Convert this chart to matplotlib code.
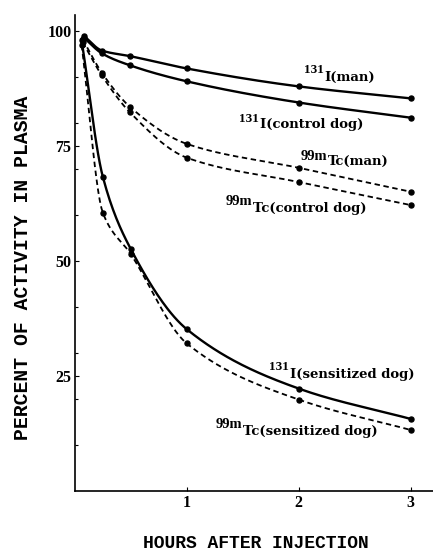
"""
Disappearance of 131I and 99mTc activity from plasma.
"""
import matplotlib
matplotlib.use('Agg')
import matplotlib.pyplot as plt
import numpy as np

# hours after injection and percent of activity in plasma
i131_man_h = [0.08, 0.24, 0.49, 1.0, 2.0, 3.0]
i131_man = [99.0, 95.8, 94.6, 91.9, 88.0, 85.4]

i131_ctrl_h = [0.08, 0.24, 0.49, 1.0, 2.0, 3.0]
i131_ctrl = [98.6, 95.2, 92.6, 89.1, 84.5, 81.2]

tc_man_h = [0.07, 0.24, 0.49, 1.0, 2.0, 3.0]
tc_man = [98.2, 91.0, 83.6, 75.5, 70.3, 65.1]

tc_ctrl_h = [0.07, 0.24, 0.49, 1.0, 2.0, 3.0]
tc_ctrl = [97.6, 90.4, 82.4, 72.5, 67.2, 62.2]

i131_sens_h = [0.06, 0.25, 0.5, 1.0, 2.0, 3.0]
i131_sens = [98.0, 68.3, 52.6, 35.2, 22.3, 15.7]

tc_sens_h = [0.06, 0.25, 0.5, 1.0, 2.0, 3.0]
tc_sens = [97.0, 60.5, 51.5, 32.1, 19.9, 13.3]

x_ticks = [1, 2, 3]
y_ticks = [25, 50, 75, 100]
y_minor = [10, 20, 30, 40, 60, 70, 80, 90]

TXT = 'DejaVu Serif'
NUM = 'Liberation Serif'
MONO = 'Liberation Mono'


def smooth(x, y, n=200):
    # monotone cubic hermite curve through the measured points (drawing only)
    x = np.asarray(x, float)
    y = np.asarray(y, float)
    h = np.diff(x)
    d = np.diff(y) / h
    m = np.zeros_like(y)
    m[0], m[-1] = d[0], d[-1]
    for k in range(1, len(x) - 1):
        if d[k - 1] * d[k] > 0:
            w1 = 2 * h[k] + h[k - 1]
            w2 = h[k] + 2 * h[k - 1]
            m[k] = (w1 + w2) / (w1 / d[k - 1] + w2 / d[k])
    xs = np.linspace(x[0], x[-1], n)
    idx = np.clip(np.searchsorted(x, xs) - 1, 0, len(x) - 2)
    t = (xs - x[idx]) / h[idx]
    h00 = 2 * t**3 - 3 * t**2 + 1
    h10 = t**3 - 2 * t**2 + t
    h01 = -2 * t**3 + 3 * t**2
    h11 = t**3 - t**2
    ys = (h00 * y[idx] + h10 * h[idx] * m[idx]
          + h01 * y[idx + 1] + h11 * h[idx] * m[idx + 1])
    return xs, ys


fig = plt.figure(figsize=(4.33, 5.60), dpi=100)
ax = fig.add_axes([0.173, 0.123, 0.827, 0.850])

series = [
    (i131_man_h, i131_man, '-'),
    (i131_ctrl_h, i131_ctrl, '-'),
    (tc_man_h, tc_man, '--'),
    (tc_ctrl_h, tc_ctrl, '--'),
    (i131_sens_h, i131_sens, '-'),
    (tc_sens_h, tc_sens, '--'),
]
for hx, vy, ls in series:
    xs, ys = smooth(hx, vy)
    if ls == '-':
        ax.plot(xs, ys, color='black', lw=1.7)
    else:
        ax.plot(xs, ys, color='black', lw=1.3, ls=(0, (3, 2)))
    ax.plot(hx, vy, 'o', color='black', ms=3.6)

# curve labels: superscript isotope mass (right-aligned against the element)
labels = [
    (90.9, '131', 2.23, 89.2, 'I(man)'),
    (80.2, '131', 1.65, 78.9, 'I(control dog)'),
    (72.0, '99m', 2.259, 70.9, 'Tc(man)'),
    (62.2, '99m', 1.589, 60.7, 'Tc(control dog)'),
    (26.3, '131', 1.92, 24.6, 'I(sensitized dog)'),
    (13.7, '99m', 1.50, 12.2, 'Tc(sensitized dog)'),
]
for sy, sup, mx, my, main in labels:
    size = 9.5 if sup == '131' else 10.5
    ax.text(mx - 0.005, sy, sup, fontsize=size, fontweight='bold', family=NUM,
            ha='right', va='baseline')
    ax.text(mx, my, main, fontsize=9.5, fontweight='bold', family=TXT,
            ha='left', va='baseline')

ax.set_xlim(0, 3.2)
ax.set_ylim(0, 103.5)
ax.set_xticks(x_ticks)
ax.set_xticklabels([str(v) for v in x_ticks])
ax.set_yticks(y_ticks)
ax.set_yticklabels([str(v) for v in y_ticks])
ax.set_yticks(y_minor, minor=True)
ax.tick_params(axis='both', direction='in', length=3, width=0.8,
               labelsize=11.5, pad=2.5)
ax.tick_params(axis='y', which='minor', direction='in', length=2, width=0.8)
for lab in ax.get_xticklabels() + ax.get_yticklabels():
    lab.set_family(NUM)
    lab.set_fontweight('bold')

for side in ['top', 'right']:
    ax.spines[side].set_visible(False)
ax.spines['left'].set_linewidth(1.2)
ax.spines['bottom'].set_linewidth(1.2)

fig.text(0.053, 0.521, 'PERCENT OF ACTIVITY IN PLASMA', rotation=90,
         ha='center', va='center', fontsize=14.2, fontweight='bold',
         family=MONO)
fig.text(0.591, 0.029, 'HOURS AFTER INJECTION', ha='center', va='center',
         fontsize=13, fontweight='bold', family=MONO)

fig.savefig('out.png', dpi=100)
